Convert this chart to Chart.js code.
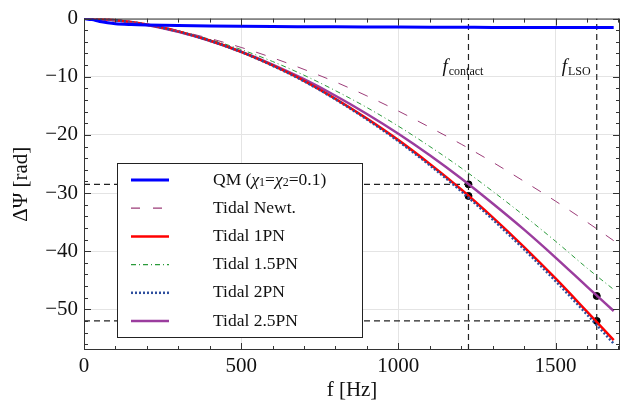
<!DOCTYPE html>
<html lang="en">
<head>
  <meta charset="UTF-8">
  <title>Tidal dephasing</title>
  <script src="https://cdn.jsdelivr.net/npm/chart.js"></script>
  <style>
    body { margin: 0; padding: 0; background: #fff; }
    canvas { display: block; }
  </style>
</head>
<body>
  <canvas id="myChart" width="629" height="407"></canvas>

  <script>
    // frequencies in Hz, phase differences in rad
    const freq = [0, 25, 50, 75, 100, 150, 200, 300, 400, 500, 600, 700, 800, 900, 1000, 1100, 1200, 1300, 1400, 1500, 1600, 1685];
    const qm = [0, -0.18, -0.5, -0.72, -0.88, -1.02, -1.1, -1.2, -1.27, -1.32, -1.36, -1.39, -1.42, -1.44, -1.46, -1.48, -1.5, -1.51, -1.52, -1.53, -1.54, -1.55];
    const tidalNewt = [0, -0.03, -0.1, -0.2, -0.33, -0.65, -1.07, -2.1, -3.41, -4.96, -6.74, -8.74, -10.9, -13.3, -15.9, -18.7, -21.6, -24.7, -28.0, -31.4, -35.0, -38.2];
    const tidal1PN = [0, -0.03, -0.09, -0.17, -0.28, -0.6, -1.03, -2.2, -3.77, -5.72, -8.06, -10.7, -13.8, -17.2, -20.9, -25.0, -29.4, -34.2, -39.3, -44.7, -50.4, -55.3];
    const tidal15PN = [0, -0.03, -0.09, -0.16, -0.29, -0.6, -1.02, -2.12, -3.56, -5.32, -7.38, -9.74, -12.4, -15.3, -18.5, -22.0, -25.7, -29.7, -33.9, -38.3, -42.9, -46.6];
    const tidal2PN = [0, -0.03, -0.09, -0.17, -0.28, -0.6, -1.04, -2.22, -3.8, -5.75, -8.1, -10.78, -13.9, -17.35, -21.1, -25.25, -29.7, -34.55, -39.7, -45.15, -50.9, -55.9];
    const tidal25PN = [0, -0.03, -0.09, -0.17, -0.31, -0.62, -1.09, -2.27, -3.81, -5.7, -7.91, -10.43, -13.27, -16.4, -19.8, -23.5, -27.5, -31.8, -36.3, -41.1, -46.1, -50.3];

    // contact and last-stable-orbit frequencies, marked phases
    const fContact = 1223;
    const fLSO = 1631;
    const markF = [1223, 1223, 1631, 1631];
    const markPsi = [-28.5, -30.5, -47.7, -52.0];
    const refPsi = [-28.5, -52.0];

    const xTicks = [0, 500, 1000, 1500];
    const yTicks = [0, -10, -20, -30, -40, -50];
    const xMin = 0, xMax = 1705, yMin = -57, yMax = 0;
    const serif = '"Liberation Serif", "Times New Roman", serif';

    const pts = (ys) => freq.map((f, i) => ({ x: f, y: ys[i] }));

    const curves = [
      { label: "QM", data: qm, color: "#0000ff", width: 3, dash: [] },
      { label: "Tidal Newt.", data: tidalNewt, color: "#9c3c78", width: 1, dash: [10, 12] },
      { label: "Tidal 2PN", data: tidal2PN, color: "#2e4f9e", width: 2.5, dash: [2, 2] },
      { label: "Tidal 1PN", data: tidal1PN, color: "#ff0000", width: 2.5, dash: [] },
      { label: "Tidal 1.5PN", data: tidal15PN, color: "#2a9a3a", width: 1, dash: [5, 3, 1, 3] },
      { label: "Tidal 2.5PN", data: tidal25PN, color: "#9b3d9e", width: 2.5, dash: [] },
    ];

    const datasets = curves.map((c) => ({
      label: c.label,
      data: pts(c.data),
      borderColor: c.color,
      borderWidth: c.width,
      borderDash: c.dash,
      pointRadius: 0,
      fill: false,
      cubicInterpolationMode: "monotone",
    }));

    // dashed reference lines
    const refStyle = { borderColor: "#222", borderWidth: 1.2, borderDash: [6, 4], pointRadius: 0, fill: false };
    datasets.push(Object.assign({ label: "ref", data: [{ x: fContact, y: yMin }, { x: fContact, y: yMax }] }, refStyle));
    datasets.push(Object.assign({ label: "ref", data: [{ x: fLSO, y: yMin }, { x: fLSO, y: yMax }] }, refStyle));
    datasets.push(Object.assign({ label: "ref", data: [{ x: 0, y: refPsi[0] }, { x: fContact, y: refPsi[0] }] }, refStyle));
    datasets.push(Object.assign({ label: "ref", data: [{ x: 0, y: refPsi[1] }, { x: fLSO, y: refPsi[1] }] }, refStyle));
    datasets.push({
      label: "marks",
      data: markF.map((f, i) => ({ x: f, y: markPsi[i] })),
      showLine: false,
      pointRadius: 3.5,
      pointBackgroundColor: "#000",
      pointBorderColor: "#000",
    });

    // frame, inward ticks, annotations and legend
    const decor = {
      id: "decor",
      afterDatasetsDraw(chart) {
        const ctx = chart.ctx;
        const xs = chart.scales.x, ys = chart.scales.y;
        const a = chart.chartArea;
        ctx.save();
        ctx.strokeStyle = "#333";
        ctx.lineWidth = 1;
        ctx.strokeRect(a.left + 0.5, a.top + 0.5, a.right - a.left - 1, a.bottom - a.top - 1);

        ctx.beginPath();
        for (let f = 0; f <= xMax; f += 100) {
          const px = Math.round(xs.getPixelForValue(f)) + 0.5;
          const len = f % 500 === 0 ? 7 : 4;
          ctx.moveTo(px, a.bottom); ctx.lineTo(px, a.bottom - len);
          ctx.moveTo(px, a.top); ctx.lineTo(px, a.top + len);
        }
        for (let v = 0; v >= yMin; v -= 2) {
          const py = Math.round(ys.getPixelForValue(v)) + 0.5;
          const len = v % 10 === 0 ? 7 : 4;
          ctx.moveTo(a.left, py); ctx.lineTo(a.left + len, py);
          ctx.moveTo(a.right, py); ctx.lineTo(a.right - len, py);
        }
        ctx.stroke();

        // f_contact, f_LSO labels
        const sub = (x0, y0, name) => {
          ctx.fillStyle = "#111";
          ctx.textBaseline = "alphabetic";
          ctx.font = "italic 19px " + serif;
          ctx.fillText("f", x0, y0);
          const w = ctx.measureText("f").width;
          ctx.font = "12px " + serif;
          ctx.fillText(name, x0 + w + 1, y0 + 3);
        };
        sub(xs.getPixelForValue(fContact) - 26, 72, "contact");
        sub(xs.getPixelForValue(fLSO) - 35, 72, "LSO");

        // legend box
        const L = 117, T = 163, W = 245, H = 174;
        ctx.fillStyle = "#fff";
        ctx.fillRect(L, T, W, H);
        ctx.strokeStyle = "#222";
        ctx.lineWidth = 1;
        ctx.strokeRect(L + 0.5, T + 0.5, W, H);
        const order = ["QM", "Tidal Newt.", "Tidal 1PN", "Tidal 1.5PN", "Tidal 2PN", "Tidal 2.5PN"];
        order.forEach((name, i) => {
          const c = curves.find((k) => k.label === name);
          const y = T + 17 + i * 28.2;
          ctx.beginPath();
          ctx.strokeStyle = c.color;
          ctx.lineWidth = c.width === 1 ? 1.2 : c.width;
          ctx.setLineDash(c.label === "Tidal Newt." ? [9, 13] : c.dash);
          ctx.moveTo(131, y); ctx.lineTo(169, y);
          ctx.stroke();
          ctx.setLineDash([]);
          ctx.fillStyle = "#111";
          ctx.textBaseline = "middle";
          if (name === "QM") {
            let x = 213;
            const part = (t, font, dy) => {
              ctx.font = font;
              ctx.fillText(t, x, y + dy);
              x += ctx.measureText(t).width;
            };
            const f = "17.5px " + serif, fi = "italic 17.5px " + serif, fs = "12px " + serif;
            part("QM (", f, 0); part("\u03C7", fi, 0); part("1", fs, 3);
            part("=", f, 0); part("\u03C7", fi, 0); part("2", fs, 3);
            part("=0.1)", f, 0);
          } else {
            ctx.font = "17.5px " + serif;
            ctx.fillText(name, 213, y);
          }
        });
        ctx.restore();
      },
    };

    const ctx = document.getElementById("myChart").getContext("2d");
    const chart = new Chart(ctx, {
      type: "line",
      data: { datasets: datasets },
      options: {
        responsive: false,
        animation: false,
        layout: { padding: { top: 18, right: 9, left: 0, bottom: 0 } },
        plugins: { legend: { display: false }, tooltip: { enabled: false } },
        scales: {
          x: {
            type: "linear",
            min: xMin,
            max: xMax,
            afterFit: (s) => { s.height = 57; },
            afterBuildTicks: (s) => { s.ticks = xTicks.map((v) => ({ value: v })); },
            grid: { color: "#e4e4e4", drawTicks: false, lineWidth: 1 },
            border: { display: false },
            ticks: {
              padding: 4,
              color: "#111",
              font: { family: serif, size: 21 },
              maxRotation: 0,
              autoSkip: false,
              callback: (v) => String(v),
            },
            title: {
              display: true,
              text: "f [Hz]",
              color: "#111",
              font: { family: serif, size: 21 },
              padding: { top: 0, bottom: 4 },
            },
          },
          y: {
            min: yMin,
            max: yMax,
            afterFit: (s) => { s.width = 84; },
            afterBuildTicks: (s) => { s.ticks = yTicks.map((v) => ({ value: v })); },
            grid: { color: "#e4e4e4", drawTicks: false, lineWidth: 1 },
            border: { display: false },
            ticks: {
              padding: 6,
              color: "#111",
              autoSkip: false,
              font: { family: serif, size: 21 },
              callback: (v) => (v === 0 ? "0" : "\u2212" + Math.abs(v)),
            },
            title: {
              display: true,
              text: "\u0394\u03A8 [rad]",
              color: "#111",
              font: { family: serif, size: 21 },
              padding: { top: 9, bottom: 0 },
            },
          },
        },
      },
      plugins: [decor],
    });
  </script>
</body>
</html>
